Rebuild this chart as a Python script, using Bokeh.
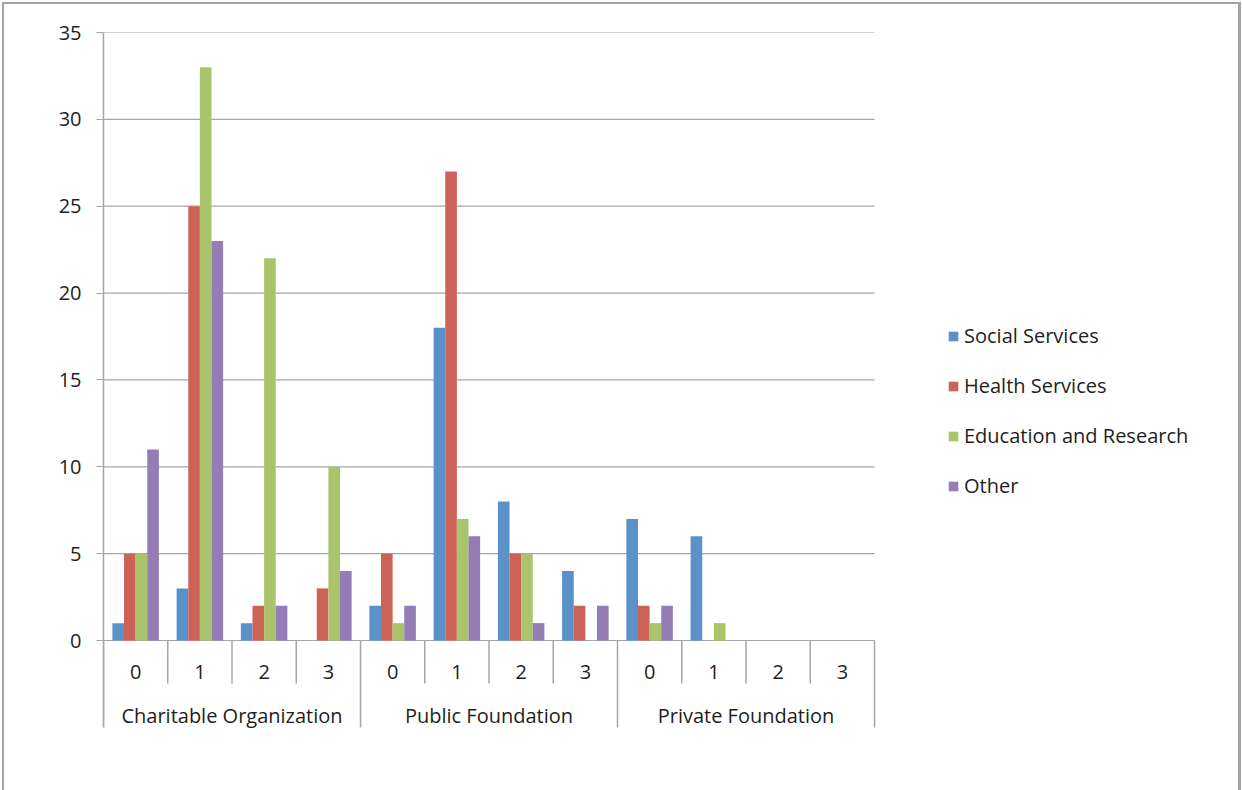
import numpy as np
from bokeh.plotting import figure
from bokeh.models import Range1d, FixedTicker, Legend, LegendItem, ColumnDataSource
from bokeh.core.properties import value
from bokeh.embed import file_html
from bokeh.resources import INLINE

groups = ["Charitable Organization", "Public Foundation", "Private Foundation"]
subs = ["0", "1", "2", "3"]
series = ["Social Services", "Health Services", "Education and Research", "Other"]
colors = ["#5B91C9", "#CD6358", "#AAC46C", "#937DB4"]

social = [1, 3, 1, 0, 2, 18, 8, 4, 7, 6, 0, 0]
health = [5, 25, 2, 3, 5, 27, 5, 2, 2, 0, 0, 0]
education = [5, 33, 22, 10, 1, 7, 5, 0, 1, 1, 0, 0]
other = [11, 23, 2, 4, 2, 6, 1, 2, 2, 0, 0, 0]
y_ticks = [0, 5, 10, 15, 20, 25, 30, 35]

FONT = "Open Sans"
FS = "20px"
GRID = "#a6a6a6"
TXT = "#1e1e1e"
n_slots = len(groups) * len(subs)
ymax = 35
px = 35 / 608.0            # data units per pixel (vertical)
slot_px = 771 / n_slots    # pixels per slot (horizontal)
ymin = -(790 - 640) * px
sep_low = -(683 - 640) * px
sep_grp = -(727 - 640) * px

page_bg = ("linear-gradient(#a3a3a3,#a3a3a3) 2px 2px / 2px 100% no-repeat, "
           "linear-gradient(#a3a3a3,#a3a3a3) 2px 2px / 1238px 2px no-repeat, "
           "linear-gradient(#a3a3a3,#a3a3a3) 1238px 2px / 3px 100% no-repeat, white")

p = figure(width=1242, height=790, output_backend="svg", toolbar_location=None,
           x_range=Range1d(0, (1242 - 103) / slot_px), y_range=Range1d(ymin, ymax),
           min_border_left=103, min_border_right=0, min_border_top=32,
           min_border_bottom=0, styles={"background": page_bg})
p.outline_line_color = None
p.border_fill_color = None
p.background_fill_color = None
p.xaxis.visible = False
p.xgrid.visible = False
p.ygrid.visible = False

yax = p.yaxis[0]
yax.ticker = FixedTicker(ticks=y_ticks)
yax.bounds = (sep_grp, ymax)
yax.axis_line_color = GRID
yax.axis_line_width = 1.5
yax.major_tick_line_color = GRID
yax.major_tick_in = 0
yax.major_tick_out = 7
yax.minor_tick_line_color = None
yax.major_label_standoff = 15
yax.major_label_text_font = FONT
yax.major_label_text_font_size = FS
yax.major_label_text_color = TXT

# horizontal grid lines across the plot area
p.segment(x0=0, y0=y_ticks, x1=n_slots, y1=y_ticks, line_color=GRID, line_width=1.2)

w = 0.181
centers = np.arange(n_slots) + 0.5
items = []
for k, (name, vals, c) in enumerate(zip(series, [social, health, education, other], colors)):
    src = ColumnDataSource(dict(x=centers + (k - 1.5) * w, top=vals))
    r = p.vbar(x="x", top="top", bottom=0, width=w, source=src, fill_color=c,
               line_color=None)
    items.append(LegendItem(label=name, renderers=[r]))

# category separators
sub_x = [i for i in range(n_slots + 1) if i % 4 != 0]
grp_x = list(range(0, n_slots + 1, 4))
p.segment(x0=sub_x, y0=0, x1=sub_x, y1=sep_low, line_color=GRID, line_width=1.5)
p.segment(x0=grp_x, y0=0, x1=grp_x, y1=sep_grp, line_color=GRID, line_width=1.5)

sub_labels = [s for g in groups for s in subs]
p.text(x=centers, y=-(671 - 640) * px, text=sub_labels, text_align="center",
       text_baseline="middle", text_font=value(FONT), text_font_size=FS, text_color=TXT)
p.text(x=[2, 6, 10], y=-(715 - 640) * px, text=groups, text_align="center",
       text_baseline="middle", text_font=value(FONT), text_font_size=FS, text_color=TXT)

legend = Legend(items=items, location=(844, 291), padding=0, margin=0,
                border_line_color=None, background_fill_alpha=0,
                glyph_width=12, glyph_height=12, label_height=12, spacing=23,
                label_standoff=5, label_text_font=FONT, label_text_font_size=FS,
                label_text_color=TXT)
p.add_layout(legend, "center")

open("out.html", "w").write(file_html(p, INLINE))
